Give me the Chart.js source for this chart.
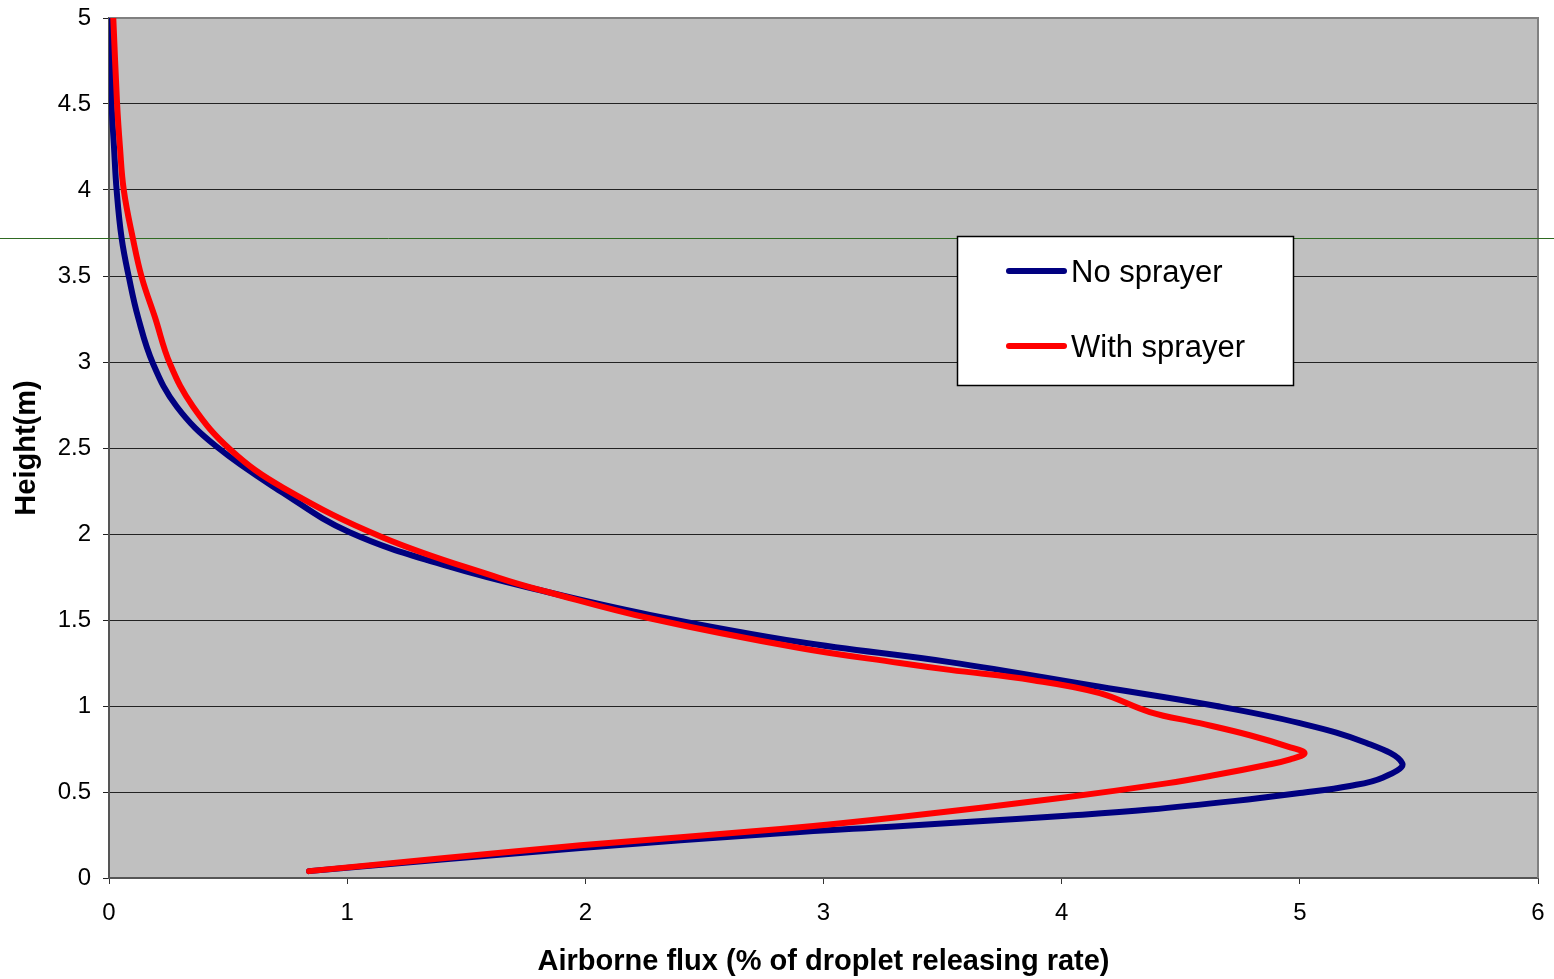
<!DOCTYPE html>
<html>
<head>
<meta charset="utf-8">
<script src="https://cdn.jsdelivr.net/npm/chart.js@4"></script>
<style>
    html, body { margin: 0; padding: 0; background: #fff; }
    #wrap { width: 1554px; height: 979px; position: relative; }
</style>
</head>
<body>
<div id="wrap"><canvas id="fluxChart"></canvas></div>
<script>
// 数据：高度 (m) 与 空中通量 (%)
const seriesNames = ["No sprayer", "With sprayer"];

const fluxNoSprayer = [0.84, 1.98, 2.82, 3.30, 3.60, 4.02, 4.37, 4.72, 5.00, 5.21, 5.35, 5.43, 5.28, 5.00, 4.65, 4.16, 3.53, 2.90, 2.27, 1.85, 1.43, 1.01, 0.73, 0.45, 0.285, 0.185, 0.122, 0.084, 0.053, 0.032, 0.021, 0.011, 0.002];
const heightNoSprayer = [0.04, 0.175, 0.26, 0.30, 0.325, 0.362, 0.398, 0.447, 0.494, 0.535, 0.585, 0.667, 0.785, 0.90, 1.00, 1.112, 1.255, 1.372, 1.53, 1.66, 1.81, 2.01, 2.24, 2.51, 2.74, 2.99, 3.26, 3.49, 3.72, 4.00, 4.25, 4.50, 5.00];

const fluxWithSprayer = [0.84, 1.98, 2.82, 3.32, 4.02, 4.44, 4.65, 4.86, 4.96, 5.02, 4.96, 4.79, 4.58, 4.37, 4.16, 3.88, 3.53, 3.32, 2.90, 2.27, 1.85, 1.64, 1.15, 0.73, 0.51, 0.353, 0.256, 0.193, 0.138, 0.10, 0.062, 0.046, 0.034, 0.018];
const heightWithSprayer = [0.04, 0.19, 0.285, 0.355, 0.47, 0.55, 0.60, 0.657, 0.69, 0.726, 0.76, 0.83, 0.90, 0.965, 1.075, 1.15, 1.21, 1.25, 1.337, 1.51, 1.66, 1.744, 1.98, 2.27, 2.49, 2.74, 2.99, 3.26, 3.49, 3.72, 4.00, 4.25, 4.50, 5.00];

// 图中那条绿色的水平线 (高度)
const markerHeight = [3.72];

const FONT = "'Liberation Sans', Arial, sans-serif";

function toPoints(xs, ys) {
    return xs.map((x, i) => ({ x: x, y: ys[i] }));
}

// 绘图区背景与边框
const plotBackground = {
    id: "plotBackground",
    beforeDraw(chart) {
        const { ctx, chartArea: a } = chart;
        ctx.save();
        ctx.fillStyle = "#c0c0c0";
        ctx.fillRect(a.left, a.top, a.right - a.left, a.bottom - a.top);
        ctx.restore();
    },
    beforeDatasetsDraw(chart) {
        const { ctx, chartArea: a, scales } = chart;
        ctx.save();
        // 顶部和右侧灰色边框
        ctx.strokeStyle = "#808080";
        ctx.lineWidth = 2;
        ctx.beginPath();
        ctx.moveTo(a.left, a.top);
        ctx.lineTo(a.right, a.top);
        ctx.lineTo(a.right, a.bottom);
        ctx.stroke();
        // 绿色横线，横跨整个画布
        const y = Math.round(scales.y.getPixelForValue(markerHeight[0])) + 0.5;
        ctx.strokeStyle = "#2f6a22";
        ctx.lineWidth = 1;
        ctx.beginPath();
        ctx.moveTo(0, y);
        ctx.lineTo(chart.width, y);
        ctx.stroke();
        ctx.restore();
    }
};

// 图例：画在绘图区内部
const boxLegend = {
    id: "boxLegend",
    afterDraw(chart) {
        const { ctx, chartArea: a } = chart;
        const left = a.left + 848, top = a.top + 218, w = 336, h = 149;
        ctx.save();
        ctx.fillStyle = "#ffffff";
        ctx.fillRect(left, top, w, h);
        ctx.strokeStyle = "#000";
        ctx.lineWidth = 1.5;
        ctx.strokeRect(left + 0.5, top + 0.5, w, h);
        ctx.font = "31px " + FONT;
        ctx.textBaseline = "middle";
        chart.data.datasets.forEach((ds, i) => {
            const y = top + 35 + i * 75;
            ctx.strokeStyle = ds.borderColor;
            ctx.lineWidth = 6;
            ctx.lineCap = "round";
            ctx.beginPath();
            ctx.moveTo(left + 52, y);
            ctx.lineTo(left + 107, y);
            ctx.stroke();
            ctx.fillStyle = "#000";
            ctx.fillText(ds.label, left + 114, y + 2);
        });
        ctx.restore();
    }
};

const ctx = document.getElementById("fluxChart").getContext("2d");
new Chart(ctx, {
    type: "scatter",
    data: {
        datasets: [{
            label: seriesNames[0],
            data: toPoints(fluxNoSprayer, heightNoSprayer),
            borderColor: "#000080",
            borderWidth: 6,
            borderCapStyle: "round",
            borderJoinStyle: "round",
            showLine: true,
            tension: 0.4,
            pointRadius: 0,
            order: 1
        }, {
            label: seriesNames[1],
            data: toPoints(fluxWithSprayer, heightWithSprayer),
            borderColor: "#ff0000",
            borderWidth: 6,
            borderCapStyle: "round",
            borderJoinStyle: "round",
            showLine: true,
            tension: 0.4,
            pointRadius: 0,
            order: 0
        }]
    },
    options: {
        responsive: true,
        maintainAspectRatio: false,
        animation: false,
        layout: {
            padding: { left: 0, right: 16, top: 18, bottom: 0 }
        },
        plugins: {
            legend: { display: false },
            tooltip: { enabled: false }
        },
        scales: {
            x: {
                type: "linear",
                min: 0,
                max: 6,
                ticks: {
                    stepSize: 1,
                    color: "#000",
                    font: { family: FONT, size: 24 },
                    padding: 15
                },
                grid: {
                    drawOnChartArea: false,
                    drawTicks: true,
                    tickLength: 6,
                    color: "#333"
                },
                border: { color: "#555", width: 2 },
                title: {
                    display: true,
                    text: "Airborne flux (% of droplet releasing rate)",
                    color: "#000",
                    font: { family: FONT, size: 29, weight: "bold" },
                    padding: { top: 0, bottom: 0 }
                },
                afterFit(scale) {
                    scale.height = 101;
                    scale.paddingLeft = 0;
                    scale.paddingRight = 0;
                }
            },
            y: {
                type: "linear",
                min: 0,
                max: 5,
                ticks: {
                    stepSize: 0.5,
                    color: "#000",
                    font: { family: FONT, size: 24 },
                    padding: 12,
                    callback: (value) => String(Number(value.toFixed(1)))
                },
                grid: {
                    color: "#222",
                    lineWidth: 1,
                    drawTicks: true,
                    tickLength: 6
                },
                border: { color: "#555", width: 2 },
                title: {
                    display: true,
                    text: "Height(m)",
                    color: "#000",
                    font: { family: FONT, size: 29, weight: "bold" },
                    padding: { top: 10, bottom: 0 }
                },
                afterFit(scale) {
                    scale.width = 109;
                    scale.paddingTop = 0;
                    scale.paddingBottom = 0;
                }
            }
        }
    },
    plugins: [plotBackground, boxLegend]
});
</script>
</body>
</html>
